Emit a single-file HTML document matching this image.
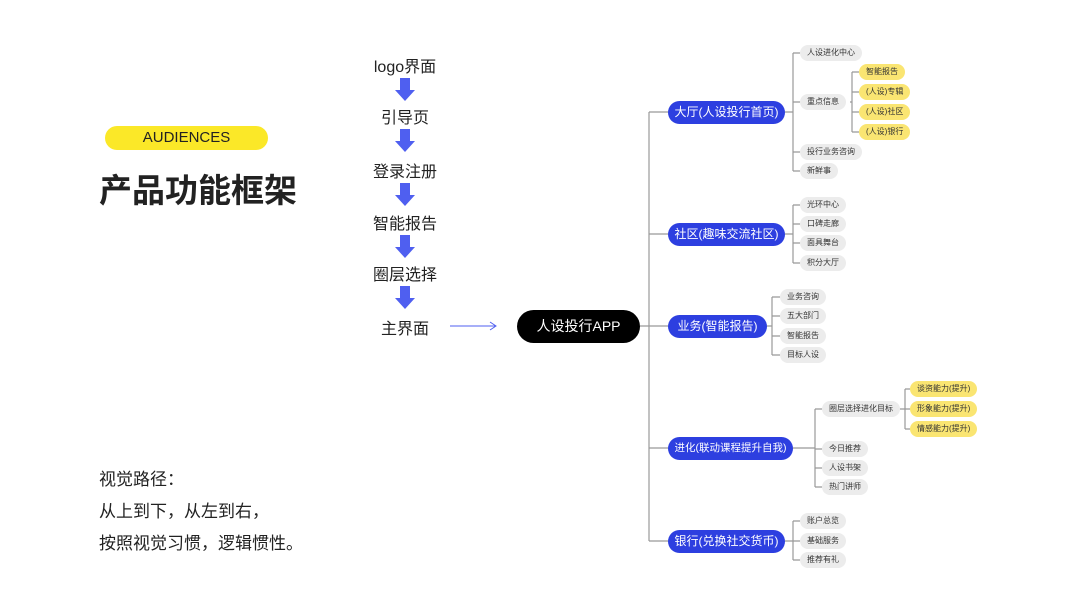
<!DOCTYPE html>
<html><head><meta charset="utf-8"><style>
*{margin:0;padding:0;box-sizing:border-box}
body{width:1067px;height:600px;background:#fff;position:relative;overflow:hidden;font-family:"Liberation Sans","Noto Sans CJK SC",sans-serif;color:#222}
.a{position:absolute;white-space:nowrap}
.f{font-size:16px;color:#222;transform:translateX(-50%)}
.b{position:absolute;height:23px;line-height:23px;border-radius:12px;background:#2d3fe0;color:#fff;font-size:12px;text-align:center;white-space:nowrap;overflow:hidden}
.g{position:absolute;height:16px;line-height:16px;border-radius:8px;background:#ececec;color:#333;font-size:8px;padding:0 7px;white-space:nowrap}
.y{position:absolute;height:16px;line-height:16px;border-radius:8px;background:#fae572;color:#333;font-size:8px;padding:0 7px;white-space:nowrap}
</style></head><body>
<div class="a" style="left:105px;top:126px;width:163px;height:24px;border-radius:12px;background:#fbe828;text-align:center;line-height:24px;font-size:15px;color:#222">AUDIENCES</div>
<div class="a" style="left:99px;top:164px;font-size:33px;font-weight:bold;color:#222">产品功能框架</div>
<div class="a" style="left:99px;top:464px;font-size:17px;line-height:32px">视觉路径：<br>从上到下，从左到右，<br>按照视觉习惯，逻辑惯性。</div>

<div class="a f" style="left:405px;top:53px">logo界面</div>
<div class="a f" style="left:405px;top:104px">引导页</div>
<div class="a f" style="left:405px;top:158px">登录注册</div>
<div class="a f" style="left:405px;top:210px">智能报告</div>
<div class="a f" style="left:405px;top:261px">圈层选择</div>
<div class="a f" style="left:405px;top:315px">主界面</div>

<svg class="a" style="left:0;top:0" width="1067" height="600">
<g fill="#4f5ff0">
<path d="M400 78h10v12h5l-10 11-10-11h5z"/>
<path d="M400 129h10v12h5l-10 11-10-11h5z"/>
<path d="M400 183h10v12h5l-10 11-10-11h5z"/>
<path d="M400 235h10v12h5l-10 11-10-11h5z"/>
<path d="M400 286h10v12h5l-10 11-10-11h5z"/>
</g>
<line x1="450" y1="326" x2="495" y2="326" stroke="#4f5ff0" stroke-width="1"/>
<path d="M490 322l6 4-6 4" fill="none" stroke="#4f5ff0" stroke-width="1"/>
<g fill="none" stroke="#999" stroke-width="1.2">
<path d="M640 326H649M649 112V541M649 112H668M649 234H668M649 326H668M649 448H668M649 541H668"/>
<path d="M785 112H793M793 53V171M793 53H800M793 102H800M793 152H800M793 171H800"/>
<path d="M850 102H852M852 72V132M852 72H859M852 92H859M852 112H859M852 132H859"/>
<path d="M785 234H793M793 205V263M793 205H800M793 224H800M793 243H800M793 263H800"/>
<path d="M767 326H772M772 297V355M772 297H780M772 316H780M772 336H780M772 355H780"/>
<path d="M793 448H815M815 409V487M815 409H822M815 449H822M815 468H822M815 487H822"/>
<path d="M895 409H905M905 389V429M905 389H910M905 409H910M905 429H910"/>
<path d="M785 541H793M793 521V560M793 521H800M793 541H800M793 560H800"/>
</g>
</svg>

<div class="a" style="left:517px;top:310px;width:123px;height:33px;border-radius:17px;background:#000;color:#fff;font-size:14px;line-height:33px;text-align:center">人设投行APP</div>

<div class="b" style="left:668px;top:101px;width:117px">大厅(人设投行首页)</div>
<div class="b" style="left:668px;top:223px;width:117px">社区(趣味交流社区)</div>
<div class="b" style="left:668px;top:315px;width:99px">业务(智能报告)</div>
<div class="b" style="left:668px;top:437px;width:125px;font-size:10.5px">进化(联动课程提升自我)</div>
<div class="b" style="left:668px;top:530px;width:117px">银行(兑换社交货币)</div>

<div class="g" style="left:800px;top:45px">人设进化中心</div>
<div class="g" style="left:800px;top:94px">重点信息</div>
<div class="g" style="left:800px;top:144px">投行业务咨询</div>
<div class="g" style="left:800px;top:163px">新鲜事</div>
<div class="y" style="left:859px;top:64px">智能报告</div>
<div class="y" style="left:859px;top:84px">(人设)专辑</div>
<div class="y" style="left:859px;top:104px">(人设)社区</div>
<div class="y" style="left:859px;top:124px">(人设)银行</div>

<div class="g" style="left:800px;top:197px">光环中心</div>
<div class="g" style="left:800px;top:216px">口碑走廊</div>
<div class="g" style="left:800px;top:235px">面具舞台</div>
<div class="g" style="left:800px;top:255px">积分大厅</div>

<div class="g" style="left:780px;top:289px">业务咨询</div>
<div class="g" style="left:780px;top:308px">五大部门</div>
<div class="g" style="left:780px;top:328px">智能报告</div>
<div class="g" style="left:780px;top:347px">目标人设</div>

<div class="g" style="left:822px;top:401px">圈层选择进化目标</div>
<div class="g" style="left:822px;top:441px">今日推荐</div>
<div class="g" style="left:822px;top:460px">人设书架</div>
<div class="g" style="left:822px;top:479px">热门讲师</div>
<div class="y" style="left:910px;top:381px">谈资能力(提升)</div>
<div class="y" style="left:910px;top:401px">形象能力(提升)</div>
<div class="y" style="left:910px;top:421px">情感能力(提升)</div>

<div class="g" style="left:800px;top:513px">账户总览</div>
<div class="g" style="left:800px;top:533px">基础服务</div>
<div class="g" style="left:800px;top:552px">推荐有礼</div>
</body></html>
